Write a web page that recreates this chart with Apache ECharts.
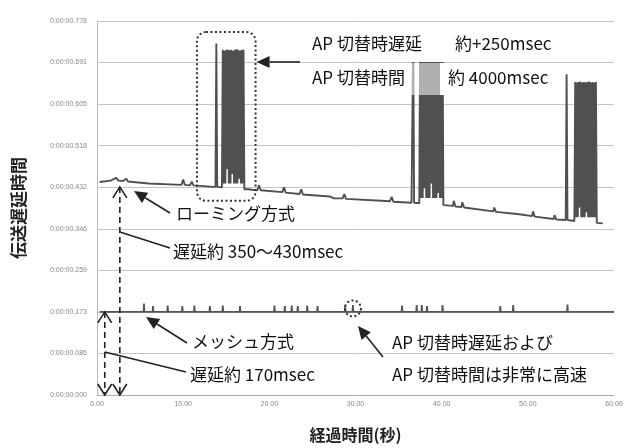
<!DOCTYPE html>
<html>
<head>
<meta charset="utf-8">
<script src="https://cdn.jsdelivr.net/npm/echarts@6/dist/echarts.min.js"></script>
<style>
html, body { margin: 0; padding: 0; background: #fff; }
#chart { width: 626px; height: 448px; }
</style>
</head>
<body>
<div id="chart"></div>
<script>
// tick labels (Excel style time format)
var yTickLabels = ['0:00:00.000', '0:00:00.086', '0:00:00.173', '0:00:00.259', '0:00:00.346',
    '0:00:00.432', '0:00:00.518', '0:00:00.605', '0:00:00.691', '0:00:00.778'];
var xTickLabels = ['0.00', '10.00', '20.00', '30.00', '40.00', '50.00', '60.00'];

// roaming: [elapsed sec, delay sec]
var roamingPoints = [
    [0.3, 0.443], [1.6, 0.446], [2.2, 0.452], [2.5, 0.446], [3.0, 0.445], [3.4, 0.450], [3.6, 0.444],
    [6.0, 0.440], [9.8, 0.437], [10.0, 0.448], [10.2, 0.437], [10.8, 0.436], [11.0, 0.444], [11.2, 0.436],
    [13.5, 0.433], [13.75, 0.433], [13.85, 0.731], [13.95, 0.433], [14.5, 0.432],
    [14.6, 0.718], [14.7, 0.44], [14.8, 0.716], [14.9, 0.44], [15.0, 0.718], [15.1, 0.47], [15.2, 0.718],
    [15.3, 0.44], [15.4, 0.717], [15.5, 0.44], [15.6, 0.718], [15.7, 0.46], [15.8, 0.716], [15.9, 0.44],
    [16.0, 0.718], [16.1, 0.44], [16.2, 0.719], [16.3, 0.44], [16.4, 0.718], [16.5, 0.45], [16.6, 0.716],
    [16.7, 0.44], [16.8, 0.718], [16.9, 0.44], [17.0, 0.718], [17.1, 0.428],
    [17.6, 0.428], [18.0, 0.427], [18.6, 0.426], [18.8, 0.436], [19.0, 0.426], [21.5, 0.422], [21.7, 0.432],
    [21.9, 0.421], [23.5, 0.418], [23.7, 0.428], [23.9, 0.417], [27.0, 0.413], [27.5, 0.409], [28.5, 0.409],
    [28.7, 0.418], [28.9, 0.408], [33.0, 0.404], [34.0, 0.403], [34.2, 0.412], [34.4, 0.402],
    [36.5, 0.400], [36.6, 0.400], [36.7, 0.745], [36.8, 0.400], [37.4, 0.399],
    [37.5, 0.745], [37.6, 0.41], [37.7, 0.745], [37.8, 0.41], [37.9, 0.745], [38.0, 0.43], [38.1, 0.745],
    [38.2, 0.41], [38.3, 0.745], [38.4, 0.41], [38.5, 0.745], [38.6, 0.41], [38.7, 0.745], [38.8, 0.44],
    [38.9, 0.745], [39.0, 0.41], [39.1, 0.745], [39.2, 0.41], [39.3, 0.745], [39.4, 0.41], [39.5, 0.745],
    [39.6, 0.42], [39.7, 0.745], [39.8, 0.41], [39.9, 0.745], [40.0, 0.41], [40.1, 0.745], [40.2, 0.395],
    [41.0, 0.394], [41.3, 0.393], [41.4, 0.404], [41.6, 0.392], [42.3, 0.391], [42.4, 0.401], [42.6, 0.390],
    [46.0, 0.382], [46.1, 0.390], [46.3, 0.381], [49.0, 0.376], [50.5, 0.372], [50.6, 0.382], [50.8, 0.371],
    [53.0, 0.366], [53.1, 0.374], [53.3, 0.365], [54.4, 0.364], [54.5, 0.667], [54.6, 0.364], [55.4, 0.362],
    [55.5, 0.651], [55.6, 0.37], [55.7, 0.650], [55.8, 0.37], [55.9, 0.651], [56.0, 0.39], [56.1, 0.652],
    [56.2, 0.37], [56.3, 0.650], [56.4, 0.37], [56.5, 0.651], [56.6, 0.37], [56.7, 0.650], [56.8, 0.38],
    [56.9, 0.651], [57.0, 0.37], [57.1, 0.652], [57.2, 0.37], [57.3, 0.650], [57.4, 0.37], [57.5, 0.651],
    [57.6, 0.37], [57.7, 0.650], [57.8, 0.37], [57.9, 0.651], [58.0, 0.358], [58.7, 0.357]
];

// mesh: flat delay with small spikes
var meshBase = 0.173;
var meshSpikeTimes = [5.45, 6.5, 8.2, 9.9, 11.3, 13.1, 14.6, 16.6, 20.6, 21.8, 22.6, 23.3, 24.4, 25.6,
    28.8, 29.7, 35.4, 37.1, 37.7, 38.3, 40.1, 46.8, 48.3, 54.6];
var meshSpikePeaks = [0.19, 0.185, 0.186, 0.185, 0.186, 0.185, 0.186, 0.185, 0.186, 0.185, 0.186, 0.185,
    0.186, 0.185, 0.186, 0.187, 0.186, 0.187, 0.187, 0.185, 0.187, 0.185, 0.187, 0.188];

var yInterval = 0.778 / 9;

var meshPoints = [[0.3, meshBase]];
meshSpikeTimes.forEach(function (t, i) {
    meshPoints.push([t - 0.05, meshBase], [t, meshSpikePeaks[i]], [t + 0.05, meshBase]);
});
meshPoints.push([60, meshBase]);

var chart = echarts.init(document.getElementById('chart'));
var txtFont = '"Noto Sans CJK JP", sans-serif';

var option = {
    animation: false,
    backgroundColor: '#fff',
    grid: { left: 97, right: 12, top: 21, bottom: 48 },
    xAxis: {
        type: 'value', min: 0, max: 60, interval: 10,
        name: '経過時間(秒)', nameLocation: 'middle', nameGap: 32,
        nameTextStyle: { fontFamily: txtFont, fontSize: 16, fontWeight: 'bold', color: '#222' },
        axisLine: { lineStyle: { color: '#aaa' } },
        axisTick: { show: false },
        splitLine: { show: false },
        axisLabel: {
            fontSize: 7, color: '#888', margin: 6,
            formatter: function (v) { return xTickLabels[Math.round(v / 10)]; }
        }
    },
    yAxis: {
        type: 'value', min: 0, max: 0.778, interval: yInterval,
        name: '伝送遅延時間', nameLocation: 'middle', nameGap: 70,
        nameTextStyle: { fontFamily: txtFont, fontSize: 17, fontWeight: 'bold', color: '#222' },
        axisLine: { show: true, lineStyle: { color: '#bbb' } },
        axisTick: { show: false },
        splitLine: { lineStyle: { color: '#c4c4c4', width: 1 } },
        axisLabel: {
            fontSize: 7, color: '#888', margin: 10,
            formatter: function (v) { return yTickLabels[Math.round(v / yInterval)]; }
        }
    },
    series: [
        {
            name: 'ローミング方式', type: 'line', data: roamingPoints, showSymbol: false,
            lineStyle: { color: '#505050', width: 1.9 }, z: 3
        },
        {
            name: 'メッシュ方式', type: 'line', data: meshPoints, showSymbol: false,
            lineStyle: { color: '#555', width: 1.8 }, z: 3
        }
    ]
};
chart.setOption(option);

function p(t, v) { return chart.convertToPixel({ gridIndex: 0 }, [t, v]); }

function label(x, y, s) {
    return {
        type: 'text', x: x, y: y, z: 20,
        style: { text: s, fontFamily: txtFont, fontSize: 17, fill: '#111', verticalAlign: 'middle' }
    };
}
function line(x1, y1, x2, y2, dash) {
    return {
        type: 'line', z: 20,
        shape: { x1: x1, y1: y1, x2: x2, y2: y2 },
        style: { stroke: '#222', lineWidth: 1.6, lineDash: dash || null }
    };
}
// filled arrow head at (x,y), pointing away from (fx,fy)
function arrow(fx, fy, x, y) {
    var a = Math.atan2(y - fy, x - fx), L = 13, W = 6;
    var bx = x - L * Math.cos(a), by = y - L * Math.sin(a);
    return [
        line(fx, fy, bx, by),
        {
            type: 'polygon', z: 20,
            shape: { points: [[x, y], [bx + W * Math.sin(a), by - W * Math.cos(a)], [bx - W * Math.sin(a), by + W * Math.cos(a)]] },
            style: { fill: '#222' }
        }
    ];
}
function chevron(x, y, dir) {
    return {
        type: 'polyline', z: 20,
        shape: { points: [[x - 7, y + dir * 11], [x, y], [x + 7, y + dir * 11]] },
        style: { stroke: '#222', lineWidth: 1.6, fill: null }
    };
}

var top1 = p(2.65, 0.437), bot1 = p(2.65, 0);
var top2 = p(0.9, 0.177), bot2 = p(0.9, 0);
var boxA = p(11.6, 0.755), boxB = p(18.4, 0.404);
var ring = p(29.7, 0.18);

var graphics = [
    // text backgrounds
    { type: 'rect', z: 15, shape: { x: 302, y: 27, width: 300, height: 35 }, style: { fill: '#fff' } },
    { type: 'rect', z: 15, shape: { x: 302, y: 63, width: 260, height: 32 }, style: { fill: 'rgba(255,255,255,0.55)' } },
    { type: 'rect', z: 15, shape: { x: 440, y: 63, width: 120, height: 32 }, style: { fill: '#fff' } },
    { type: 'rect', z: 15, shape: { x: 302, y: 63, width: 108, height: 32 }, style: { fill: '#fff' } },
    // dotted box around first switch
    {
        type: 'rect', z: 20,
        shape: { x: boxA[0], y: boxA[1], width: boxB[0] - boxA[0], height: boxB[1] - boxA[1], r: 9 },
        style: { fill: null, stroke: '#333', lineWidth: 2, lineDash: [2, 2.5] }
    },
    {
        type: 'circle', z: 20, shape: { cx: ring[0], cy: ring[1], r: 8 },
        style: { fill: null, stroke: '#333', lineWidth: 2, lineDash: [2, 2.5] }
    },
    // dashed double arrows
    line(top1[0], top1[1] + 2, bot1[0], bot1[1] - 2, [6, 4]),
    chevron(top1[0], top1[1] + 2, 1), chevron(bot1[0], bot1[1], -1),
    line(top2[0], top2[1] + 2, bot2[0], bot2[1] - 2, [6, 4]),
    chevron(top2[0], top2[1] + 2, 1), chevron(bot2[0], bot2[1], -1),
    line(top1[0], 232, 170, 248),
    line(top2[0], 352, 186, 372),
    label(312, 44, 'AP 切替時遅延'),
    label(455, 44, '約+250msec'),
    label(312, 78, 'AP 切替時間'),
    label(448, 78, '約 4000msec'),
    label(176, 214, 'ローミング方式'),
    label(173, 252, '遅延約 350〜430msec'),
    label(192, 342, 'メッシュ方式'),
    label(190, 375, '遅延約 170msec'),
    label(392, 343, 'AP 切替時遅延および'),
    label(392, 375, 'AP 切替時間は非常に高速')
];
graphics = graphics.concat(
    arrow(300, 62, boxB[0] + 1, 62),
    arrow(170, 213, 134, 191),
    arrow(187, 343, 146, 317),
    arrow(383, 357, 358, 326)
);
chart.setOption({ graphic: graphics });
</script>
</body>
</html>
